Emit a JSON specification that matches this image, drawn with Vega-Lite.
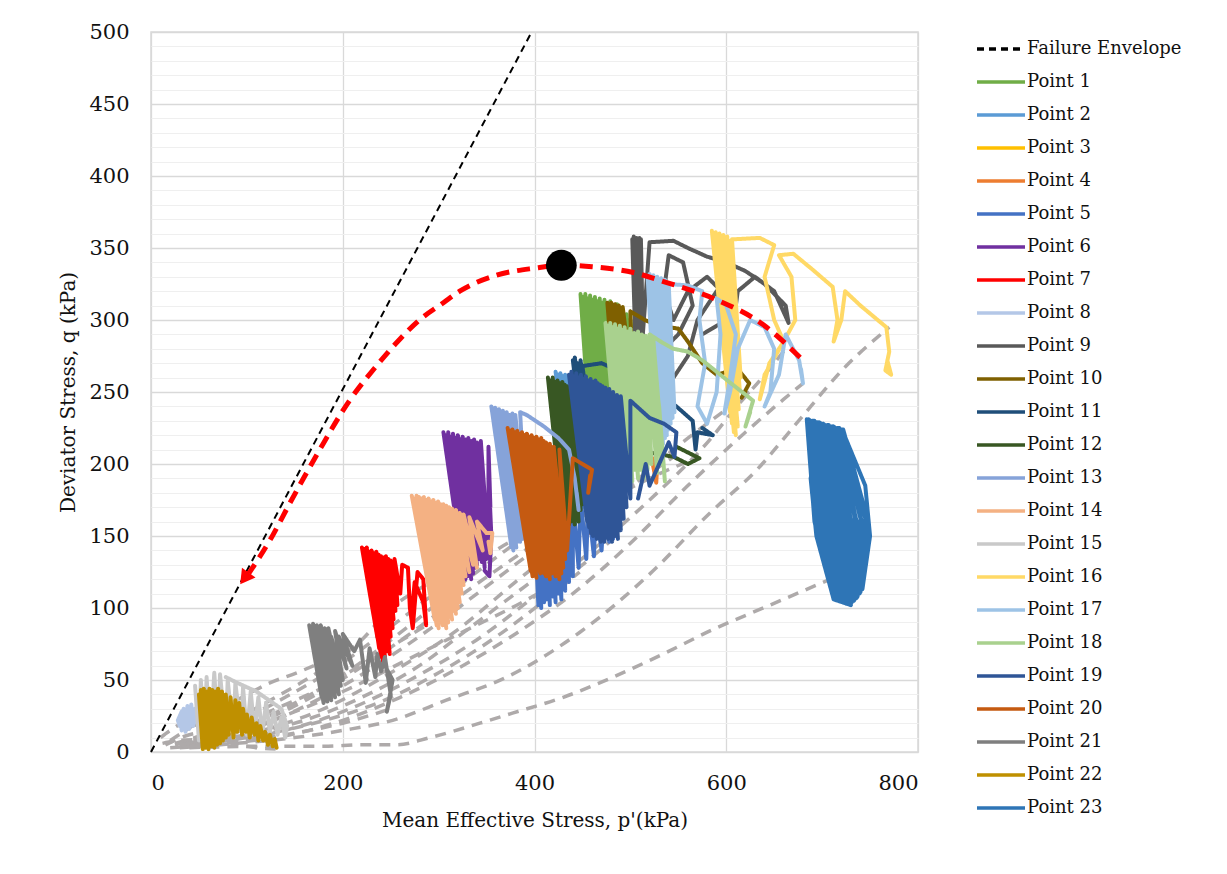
{
  "$schema": "https://vega.github.io/schema/vega-lite/v6.json",
  "width": 767,
  "height": 720,
  "autosize": {"type": "none"},
  "padding": {"left": 151, "top": 32, "right": 309, "bottom": 122},
  "background": "white",
  "config": {
    "view": {"stroke": "#D9D9D9", "strokeWidth": 1.5},
    "font": "DejaVu Serif",
    "legend": {
      "symbolType": "M-1.5,0H1.5",
      "symbolSize": 1024,
      "symbolStrokeWidth": 3.5,
      "labelFont": "DejaVu Serif",
      "labelFontSize": 18,
      "labelColor": "#111111",
      "labelOffset": 8,
      "labelLimit": 300,
      "rowPadding": 6,
      "padding": 0
    }
  },
  "datasets": {
    "envelope": [
      {"series": "Failure Envelope", "p": 0, "q": 0},
      {"series": "Failure Envelope", "p": 397, "q": 500}
    ],
    "loading": [
      {"c": 1, "p": 30, "q": 3}, {"c": 1, "p": 90, "q": 6}, {"c": 1, "p": 150, "q": 10}, {"c": 1, "p": 200, "q": 15}, {"c": 1, "p": 252, "q": 22}, {"c": 1, "p": 308, "q": 36}, {"c": 1, "p": 371, "q": 52}, {"c": 1, "p": 447, "q": 83}, {"c": 1, "p": 524, "q": 126}, {"c": 1, "p": 583, "q": 166}, {"c": 1, "p": 632, "q": 196}, {"c": 1, "p": 673, "q": 228}, {"c": 1, "p": 725, "q": 268}, {"c": 1, "p": 770, "q": 295},
      {"c": 2, "p": 40, "q": 3}, {"c": 2, "p": 120, "q": 4}, {"c": 2, "p": 180, "q": 4}, {"c": 2, "p": 221, "q": 5}, {"c": 2, "p": 256, "q": 5}, {"c": 2, "p": 291, "q": 10}, {"c": 2, "p": 343, "q": 20}, {"c": 2, "p": 377, "q": 27}, {"c": 2, "p": 430, "q": 38}, {"c": 2, "p": 482, "q": 52}, {"c": 2, "p": 534, "q": 68}, {"c": 2, "p": 586, "q": 85}, {"c": 2, "p": 642, "q": 101}, {"c": 2, "p": 705, "q": 119},
      {"c": 3, "p": 40, "q": 5}, {"c": 3, "p": 130, "q": 10}, {"c": 3, "p": 200, "q": 22}, {"c": 3, "p": 260, "q": 38}, {"c": 3, "p": 320, "q": 58}, {"c": 3, "p": 380, "q": 82}, {"c": 3, "p": 440, "q": 110}, {"c": 3, "p": 500, "q": 145}, {"c": 3, "p": 560, "q": 185}, {"c": 3, "p": 620, "q": 222}, {"c": 3, "p": 660, "q": 245}, {"c": 3, "p": 680, "q": 256},
      {"c": 4, "p": 40, "q": 5}, {"c": 4, "p": 120, "q": 12}, {"c": 4, "p": 200, "q": 28}, {"c": 4, "p": 270, "q": 50}, {"c": 4, "p": 340, "q": 78}, {"c": 4, "p": 400, "q": 108}, {"c": 4, "p": 460, "q": 140}, {"c": 4, "p": 520, "q": 175}, {"c": 4, "p": 583, "q": 217}, {"c": 4, "p": 611, "q": 240}, {"c": 4, "p": 635, "q": 258}, {"c": 4, "p": 662, "q": 280},
      {"c": 5, "p": 40, "q": 6}, {"c": 5, "p": 110, "q": 14}, {"c": 5, "p": 180, "q": 30}, {"c": 5, "p": 250, "q": 55}, {"c": 5, "p": 320, "q": 85}, {"c": 5, "p": 380, "q": 118}, {"c": 5, "p": 440, "q": 150}, {"c": 5, "p": 500, "q": 185}, {"c": 5, "p": 560, "q": 218}, {"c": 5, "p": 600, "q": 238}, {"c": 5, "p": 624, "q": 250},
      {"c": 6, "p": 35, "q": 6}, {"c": 6, "p": 100, "q": 15}, {"c": 6, "p": 170, "q": 35}, {"c": 6, "p": 230, "q": 58}, {"c": 6, "p": 290, "q": 85}, {"c": 6, "p": 350, "q": 115}, {"c": 6, "p": 410, "q": 145}, {"c": 6, "p": 470, "q": 172}, {"c": 6, "p": 520, "q": 190}, {"c": 6, "p": 572, "q": 205},
      {"c": 7, "p": 30, "q": 6}, {"c": 7, "p": 90, "q": 15}, {"c": 7, "p": 150, "q": 32}, {"c": 7, "p": 210, "q": 55}, {"c": 7, "p": 270, "q": 82}, {"c": 7, "p": 330, "q": 112}, {"c": 7, "p": 390, "q": 140}, {"c": 7, "p": 450, "q": 168}, {"c": 7, "p": 500, "q": 185}, {"c": 7, "p": 545, "q": 205},
      {"c": 8, "p": 30, "q": 5}, {"c": 8, "p": 90, "q": 14}, {"c": 8, "p": 150, "q": 28}, {"c": 8, "p": 210, "q": 45}, {"c": 8, "p": 270, "q": 65}, {"c": 8, "p": 330, "q": 85}, {"c": 8, "p": 390, "q": 105}, {"c": 8, "p": 440, "q": 125}, {"c": 8, "p": 482, "q": 148},
      {"c": 9, "p": 30, "q": 5}, {"c": 9, "p": 90, "q": 16}, {"c": 9, "p": 150, "q": 34}, {"c": 9, "p": 210, "q": 58}, {"c": 9, "p": 270, "q": 88}, {"c": 9, "p": 330, "q": 120}, {"c": 9, "p": 390, "q": 150}, {"c": 9, "p": 430, "q": 170}, {"c": 9, "p": 456, "q": 180},
      {"c": 10, "p": 25, "q": 6}, {"c": 10, "p": 80, "q": 18}, {"c": 10, "p": 140, "q": 38}, {"c": 10, "p": 200, "q": 62}, {"c": 10, "p": 260, "q": 92}, {"c": 10, "p": 320, "q": 122}, {"c": 10, "p": 380, "q": 148}, {"c": 10, "p": 420, "q": 160}, {"c": 10, "p": 447, "q": 168},
      {"c": 11, "p": 30, "q": 5}, {"c": 11, "p": 80, "q": 20}, {"c": 11, "p": 130, "q": 38}, {"c": 11, "p": 180, "q": 58}, {"c": 11, "p": 220, "q": 78}, {"c": 11, "p": 249, "q": 99}, {"c": 11, "p": 284, "q": 115}, {"c": 11, "p": 320, "q": 128}, {"c": 11, "p": 355, "q": 140},
      {"c": 12, "p": 25, "q": 5}, {"c": 12, "p": 80, "q": 15}, {"c": 12, "p": 130, "q": 30}, {"c": 12, "p": 180, "q": 45}, {"c": 12, "p": 230, "q": 65}, {"c": 12, "p": 260, "q": 77}, {"c": 12, "p": 287, "q": 88},
      {"c": 13, "p": 20, "q": 8}, {"c": 13, "p": 60, "q": 25}, {"c": 13, "p": 95, "q": 38}, {"c": 13, "p": 124, "q": 48}, {"c": 13, "p": 152, "q": 55}, {"c": 13, "p": 170, "q": 60},
      {"c": 14, "p": 15, "q": 5}, {"c": 14, "p": 40, "q": 12}, {"c": 14, "p": 70, "q": 15}, {"c": 14, "p": 100, "q": 18}, {"c": 14, "p": 130, "q": 22},
      {"c": 15, "p": 30, "q": 4}, {"c": 15, "p": 100, "q": 10}, {"c": 15, "p": 170, "q": 20}, {"c": 15, "p": 240, "q": 35}, {"c": 15, "p": 300, "q": 55}, {"c": 15, "p": 360, "q": 80}, {"c": 15, "p": 410, "q": 105}, {"c": 15, "p": 447, "q": 125},
      {"c": 16, "p": 30, "q": 5}, {"c": 16, "p": 100, "q": 12}, {"c": 16, "p": 160, "q": 22}, {"c": 16, "p": 220, "q": 38}, {"c": 16, "p": 280, "q": 60}, {"c": 16, "p": 330, "q": 85}, {"c": 16, "p": 380, "q": 110}, {"c": 16, "p": 400, "q": 120},
      {"c": 17, "p": 20, "q": 3}, {"c": 17, "p": 60, "q": 5}, {"c": 17, "p": 100, "q": 8}, {"c": 17, "p": 140, "q": 12}, {"c": 17, "p": 200, "q": 20}, {"c": 17, "p": 250, "q": 30},
      {"c": 18, "p": 10, "q": 10}, {"c": 18, "p": 20, "q": 15}, {"c": 18, "p": 35, "q": 20}, {"c": 18, "p": 50, "q": 18}, {"c": 18, "p": 70, "q": 10}, {"c": 18, "p": 90, "q": 5}, {"c": 18, "p": 110, "q": 3}, {"c": 18, "p": 130, "q": 2},
      {"c": 19, "p": 12, "q": 6}, {"c": 19, "p": 30, "q": 8}, {"c": 19, "p": 60, "q": 9}, {"c": 19, "p": 95, "q": 11}, {"c": 19, "p": 130, "q": 14}
    ],
    "points": [
      {"series": "Point 1", "p": 448, "q": 318}, {"series": "Point 1", "p": 456, "q": 240}, {"series": "Point 1", "p": 450.5, "q": 316}, {"series": "Point 1", "p": 458, "q": 236}, {"series": "Point 1", "p": 453, "q": 318}, {"series": "Point 1", "p": 460, "q": 238}, {"series": "Point 1", "p": 455.5, "q": 315}, {"series": "Point 1", "p": 462, "q": 236}, {"series": "Point 1", "p": 458, "q": 317}, {"series": "Point 1", "p": 464, "q": 240}, {"series": "Point 1", "p": 460.5, "q": 314}, {"series": "Point 1", "p": 466, "q": 238}, {"series": "Point 1", "p": 463, "q": 316}, {"series": "Point 1", "p": 468, "q": 242}, {"series": "Point 1", "p": 465.5, "q": 313}, {"series": "Point 1", "p": 470, "q": 240}, {"series": "Point 1", "p": 468, "q": 315}, {"series": "Point 1", "p": 472, "q": 244}, {"series": "Point 1", "p": 470.5, "q": 312}, {"series": "Point 1", "p": 474, "q": 242}, {"series": "Point 1", "p": 473, "q": 314}, {"series": "Point 1", "p": 476, "q": 246}, {"series": "Point 1", "p": 476, "q": 311}, {"series": "Point 1", "p": 480, "q": 248}, {"series": "Point 1", "p": 479, "q": 313}, {"series": "Point 1", "p": 484, "q": 250}, {"series": "Point 1", "p": 482, "q": 310}, {"series": "Point 1", "p": 488, "q": 254}, {"series": "Point 1", "p": 486, "q": 311}, {"series": "Point 1", "p": 492, "q": 258}, {"series": "Point 1", "p": 490, "q": 308}, {"series": "Point 1", "p": 496, "q": 262}, {"series": "Point 1", "p": 496, "q": 304}, {"series": "Point 1", "p": 500, "q": 268}, {"series": "Point 1", "p": 500, "q": 300}, {"series": "Point 1", "p": 505, "q": 270}, {"series": "Point 1", "p": 498, "q": 285},
      {"series": "Point 2", "p": 422, "q": 264}, {"series": "Point 2", "p": 440, "q": 170}, {"series": "Point 2", "p": 424.5, "q": 262}, {"series": "Point 2", "p": 442, "q": 166}, {"series": "Point 2", "p": 427, "q": 263}, {"series": "Point 2", "p": 444, "q": 168}, {"series": "Point 2", "p": 429.5, "q": 261}, {"series": "Point 2", "p": 446, "q": 172}, {"series": "Point 2", "p": 432, "q": 262}, {"series": "Point 2", "p": 448, "q": 166}, {"series": "Point 2", "p": 434.5, "q": 260}, {"series": "Point 2", "p": 450, "q": 170}, {"series": "Point 2", "p": 437, "q": 259}, {"series": "Point 2", "p": 452, "q": 174}, {"series": "Point 2", "p": 440, "q": 258}, {"series": "Point 2", "p": 456, "q": 172}, {"series": "Point 2", "p": 444, "q": 256}, {"series": "Point 2", "p": 460, "q": 176}, {"series": "Point 2", "p": 450, "q": 252}, {"series": "Point 2", "p": 468, "q": 180}, {"series": "Point 2", "p": 470, "q": 240}, {"series": "Point 2", "p": 490, "q": 230}, {"series": "Point 2", "p": 500, "q": 215}, {"series": "Point 2", "p": 505, "q": 200},
      {"series": "Point 3", "p": 470, "q": 230}, {"series": "Point 3", "p": 478, "q": 160}, {"series": "Point 3", "p": 474, "q": 228}, {"series": "Point 3", "p": 482, "q": 155}, {"series": "Point 3", "p": 478, "q": 226}, {"series": "Point 3", "p": 488, "q": 170}, {"series": "Point 3", "p": 484, "q": 224}, {"series": "Point 3", "p": 494, "q": 190}, {"series": "Point 3", "p": 490, "q": 222}, {"series": "Point 3", "p": 502, "q": 208}, {"series": "Point 3", "p": 498, "q": 215},
      {"series": "Point 4", "p": 440, "q": 250}, {"series": "Point 4", "p": 458, "q": 152}, {"series": "Point 4", "p": 443, "q": 246}, {"series": "Point 4", "p": 461, "q": 155}, {"series": "Point 4", "p": 446, "q": 248}, {"series": "Point 4", "p": 464, "q": 150}, {"series": "Point 4", "p": 450, "q": 244}, {"series": "Point 4", "p": 467, "q": 156}, {"series": "Point 4", "p": 454, "q": 242}, {"series": "Point 4", "p": 470, "q": 150}, {"series": "Point 4", "p": 458, "q": 240}, {"series": "Point 4", "p": 475, "q": 158}, {"series": "Point 4", "p": 462, "q": 238}, {"series": "Point 4", "p": 480, "q": 162}, {"series": "Point 4", "p": 470, "q": 235}, {"series": "Point 4", "p": 490, "q": 170}, {"series": "Point 4", "p": 500, "q": 220}, {"series": "Point 4", "p": 515, "q": 210}, {"series": "Point 4", "p": 528, "q": 200}, {"series": "Point 4", "p": 527, "q": 187}, {"series": "Point 4", "p": 522, "q": 205},
      {"series": "Point 5", "p": 398, "q": 190}, {"series": "Point 5", "p": 404, "q": 102}, {"series": "Point 5", "p": 401, "q": 186}, {"series": "Point 5", "p": 407, "q": 100}, {"series": "Point 5", "p": 404, "q": 188}, {"series": "Point 5", "p": 410, "q": 104}, {"series": "Point 5", "p": 407, "q": 182}, {"series": "Point 5", "p": 413, "q": 106}, {"series": "Point 5", "p": 410, "q": 186}, {"series": "Point 5", "p": 416, "q": 102}, {"series": "Point 5", "p": 413, "q": 180}, {"series": "Point 5", "p": 419, "q": 108}, {"series": "Point 5", "p": 416, "q": 184}, {"series": "Point 5", "p": 422, "q": 104}, {"series": "Point 5", "p": 419, "q": 178}, {"series": "Point 5", "p": 425, "q": 110}, {"series": "Point 5", "p": 422, "q": 182}, {"series": "Point 5", "p": 428, "q": 106}, {"series": "Point 5", "p": 426, "q": 176}, {"series": "Point 5", "p": 432, "q": 112}, {"series": "Point 5", "p": 430, "q": 180}, {"series": "Point 5", "p": 436, "q": 118}, {"series": "Point 5", "p": 434, "q": 174}, {"series": "Point 5", "p": 440, "q": 122}, {"series": "Point 5", "p": 440, "q": 176}, {"series": "Point 5", "p": 446, "q": 128}, {"series": "Point 5", "p": 448, "q": 178}, {"series": "Point 5", "p": 454, "q": 134}, {"series": "Point 5", "p": 456, "q": 172}, {"series": "Point 5", "p": 462, "q": 136}, {"series": "Point 5", "p": 464, "q": 170}, {"series": "Point 5", "p": 470, "q": 140}, {"series": "Point 5", "p": 472, "q": 165}, {"series": "Point 5", "p": 478, "q": 146}, {"series": "Point 5", "p": 478, "q": 160}, {"series": "Point 5", "p": 482, "q": 148},
      {"series": "Point 6", "p": 305, "q": 222}, {"series": "Point 6", "p": 326, "q": 124}, {"series": "Point 6", "p": 307.5, "q": 220}, {"series": "Point 6", "p": 328, "q": 120}, {"series": "Point 6", "p": 310, "q": 222}, {"series": "Point 6", "p": 330, "q": 122}, {"series": "Point 6", "p": 312.5, "q": 219}, {"series": "Point 6", "p": 332, "q": 126}, {"series": "Point 6", "p": 315, "q": 221}, {"series": "Point 6", "p": 334, "q": 120}, {"series": "Point 6", "p": 317.5, "q": 218}, {"series": "Point 6", "p": 336, "q": 124}, {"series": "Point 6", "p": 320, "q": 220}, {"series": "Point 6", "p": 338, "q": 128}, {"series": "Point 6", "p": 322.5, "q": 217}, {"series": "Point 6", "p": 340, "q": 130}, {"series": "Point 6", "p": 325, "q": 219}, {"series": "Point 6", "p": 342, "q": 134}, {"series": "Point 6", "p": 328, "q": 217}, {"series": "Point 6", "p": 343, "q": 138}, {"series": "Point 6", "p": 331, "q": 218}, {"series": "Point 6", "p": 345, "q": 132}, {"series": "Point 6", "p": 334, "q": 216}, {"series": "Point 6", "p": 346, "q": 140}, {"series": "Point 6", "p": 337, "q": 217}, {"series": "Point 6", "p": 348, "q": 128}, {"series": "Point 6", "p": 340, "q": 215}, {"series": "Point 6", "p": 350, "q": 134}, {"series": "Point 6", "p": 344, "q": 216}, {"series": "Point 6", "p": 352, "q": 140}, {"series": "Point 6", "p": 352, "q": 212}, {"series": "Point 6", "p": 354, "q": 170}, {"series": "Point 6", "p": 352, "q": 195}, {"series": "Point 6", "p": 355, "q": 150}, {"series": "Point 6", "p": 353, "q": 122}, {"series": "Point 6", "p": 348, "q": 126},
      {"series": "Point 7", "p": 220, "q": 142}, {"series": "Point 7", "p": 236, "q": 80}, {"series": "Point 7", "p": 222.5, "q": 141}, {"series": "Point 7", "p": 238, "q": 72}, {"series": "Point 7", "p": 225, "q": 142}, {"series": "Point 7", "p": 240, "q": 66}, {"series": "Point 7", "p": 227.5, "q": 139}, {"series": "Point 7", "p": 242, "q": 63}, {"series": "Point 7", "p": 230, "q": 140}, {"series": "Point 7", "p": 244, "q": 66}, {"series": "Point 7", "p": 232.5, "q": 138}, {"series": "Point 7", "p": 246, "q": 70}, {"series": "Point 7", "p": 235, "q": 139}, {"series": "Point 7", "p": 247, "q": 76}, {"series": "Point 7", "p": 237.5, "q": 137}, {"series": "Point 7", "p": 249, "q": 68}, {"series": "Point 7", "p": 240, "q": 136}, {"series": "Point 7", "p": 250, "q": 80}, {"series": "Point 7", "p": 242.5, "q": 135}, {"series": "Point 7", "p": 252, "q": 86}, {"series": "Point 7", "p": 245, "q": 136}, {"series": "Point 7", "p": 253, "q": 92}, {"series": "Point 7", "p": 247.5, "q": 134}, {"series": "Point 7", "p": 255, "q": 98}, {"series": "Point 7", "p": 250, "q": 133}, {"series": "Point 7", "p": 257, "q": 102}, {"series": "Point 7", "p": 254, "q": 134}, {"series": "Point 7", "p": 260, "q": 110}, {"series": "Point 7", "p": 262, "q": 130}, {"series": "Point 7", "p": 268, "q": 128}, {"series": "Point 7", "p": 270, "q": 100}, {"series": "Point 7", "p": 273, "q": 86}, {"series": "Point 7", "p": 276, "q": 110}, {"series": "Point 7", "p": 278, "q": 125}, {"series": "Point 7", "p": 284, "q": 120}, {"series": "Point 7", "p": 287, "q": 88}, {"series": "Point 7", "p": 284, "q": 104}, {"series": "Point 7", "p": 275, "q": 118}, {"series": "Point 7", "p": 272, "q": 96},
      {"series": "Point 8", "p": 30, "q": 25}, {"series": "Point 8", "p": 32, "q": 15}, {"series": "Point 8", "p": 34, "q": 30}, {"series": "Point 8", "p": 36, "q": 14}, {"series": "Point 8", "p": 38, "q": 32}, {"series": "Point 8", "p": 40, "q": 16}, {"series": "Point 8", "p": 42, "q": 33}, {"series": "Point 8", "p": 44, "q": 18}, {"series": "Point 8", "p": 46, "q": 30}, {"series": "Point 8", "p": 45, "q": 20}, {"series": "Point 8", "p": 40, "q": 28}, {"series": "Point 8", "p": 34, "q": 22}, {"series": "Point 8", "p": 30, "q": 18}, {"series": "Point 8", "p": 28, "q": 22}, {"series": "Point 8", "p": 32, "q": 28}, {"series": "Point 8", "p": 38, "q": 24},
      {"series": "Point 9", "p": 502, "q": 356}, {"series": "Point 9", "p": 506, "q": 268}, {"series": "Point 9", "p": 503.5, "q": 358}, {"series": "Point 9", "p": 507.5, "q": 266}, {"series": "Point 9", "p": 505, "q": 355}, {"series": "Point 9", "p": 509, "q": 270}, {"series": "Point 9", "p": 506.5, "q": 357}, {"series": "Point 9", "p": 510.5, "q": 266}, {"series": "Point 9", "p": 508, "q": 354}, {"series": "Point 9", "p": 511.5, "q": 272}, {"series": "Point 9", "p": 509.5, "q": 357}, {"series": "Point 9", "p": 513, "q": 270}, {"series": "Point 9", "p": 511, "q": 356}, {"series": "Point 9", "p": 513, "q": 290}, {"series": "Point 9", "p": 520, "q": 354}, {"series": "Point 9", "p": 545, "q": 355}, {"series": "Point 9", "p": 560, "q": 350}, {"series": "Point 9", "p": 580, "q": 344}, {"series": "Point 9", "p": 600, "q": 340}, {"series": "Point 9", "p": 620, "q": 334}, {"series": "Point 9", "p": 640, "q": 325}, {"series": "Point 9", "p": 662, "q": 310}, {"series": "Point 9", "p": 665, "q": 298}, {"series": "Point 9", "p": 650, "q": 320}, {"series": "Point 9", "p": 630, "q": 330}, {"series": "Point 9", "p": 612, "q": 320}, {"series": "Point 9", "p": 608, "q": 300}, {"series": "Point 9", "p": 605, "q": 272}, {"series": "Point 9", "p": 610, "q": 310}, {"series": "Point 9", "p": 580, "q": 330}, {"series": "Point 9", "p": 560, "q": 320}, {"series": "Point 9", "p": 545, "q": 300}, {"series": "Point 9", "p": 535, "q": 320}, {"series": "Point 9", "p": 540, "q": 345}, {"series": "Point 9", "p": 555, "q": 340}, {"series": "Point 9", "p": 565, "q": 310}, {"series": "Point 9", "p": 550, "q": 290}, {"series": "Point 9", "p": 535, "q": 280}, {"series": "Point 9", "p": 545, "q": 260}, {"series": "Point 9", "p": 560, "q": 275}, {"series": "Point 9", "p": 570, "q": 300}, {"series": "Point 9", "p": 590, "q": 320}, {"series": "Point 9", "p": 600, "q": 300}, {"series": "Point 9", "p": 575, "q": 290},
      {"series": "Point 10", "p": 476, "q": 312}, {"series": "Point 10", "p": 488, "q": 210}, {"series": "Point 10", "p": 478, "q": 310}, {"series": "Point 10", "p": 490, "q": 206}, {"series": "Point 10", "p": 480, "q": 312}, {"series": "Point 10", "p": 492, "q": 212}, {"series": "Point 10", "p": 482, "q": 309}, {"series": "Point 10", "p": 494, "q": 208}, {"series": "Point 10", "p": 484, "q": 311}, {"series": "Point 10", "p": 496, "q": 216}, {"series": "Point 10", "p": 486, "q": 308}, {"series": "Point 10", "p": 498, "q": 220}, {"series": "Point 10", "p": 488, "q": 310}, {"series": "Point 10", "p": 500, "q": 232}, {"series": "Point 10", "p": 490, "q": 307}, {"series": "Point 10", "p": 501, "q": 246}, {"series": "Point 10", "p": 492, "q": 309}, {"series": "Point 10", "p": 502, "q": 256}, {"series": "Point 10", "p": 500, "q": 306}, {"series": "Point 10", "p": 515, "q": 300}, {"series": "Point 10", "p": 530, "q": 296}, {"series": "Point 10", "p": 550, "q": 294}, {"series": "Point 10", "p": 560, "q": 285}, {"series": "Point 10", "p": 575, "q": 270}, {"series": "Point 10", "p": 590, "q": 262}, {"series": "Point 10", "p": 612, "q": 266}, {"series": "Point 10", "p": 624, "q": 256}, {"series": "Point 10", "p": 616, "q": 246}, {"series": "Point 10", "p": 620, "q": 250},
      {"series": "Point 11", "p": 440, "q": 272}, {"series": "Point 11", "p": 455, "q": 190}, {"series": "Point 11", "p": 442, "q": 274}, {"series": "Point 11", "p": 458, "q": 196}, {"series": "Point 11", "p": 445, "q": 270}, {"series": "Point 11", "p": 460, "q": 200}, {"series": "Point 11", "p": 448, "q": 272}, {"series": "Point 11", "p": 462, "q": 206}, {"series": "Point 11", "p": 450, "q": 268}, {"series": "Point 11", "p": 470, "q": 270}, {"series": "Point 11", "p": 490, "q": 264}, {"series": "Point 11", "p": 510, "q": 256}, {"series": "Point 11", "p": 530, "q": 248}, {"series": "Point 11", "p": 548, "q": 240}, {"series": "Point 11", "p": 565, "q": 230}, {"series": "Point 11", "p": 568, "q": 210}, {"series": "Point 11", "p": 570, "q": 222}, {"series": "Point 11", "p": 586, "q": 220}, {"series": "Point 11", "p": 575, "q": 225},
      {"series": "Point 12", "p": 414, "q": 260}, {"series": "Point 12", "p": 430, "q": 158}, {"series": "Point 12", "p": 416.5, "q": 258}, {"series": "Point 12", "p": 432, "q": 156}, {"series": "Point 12", "p": 419, "q": 260}, {"series": "Point 12", "p": 434, "q": 154}, {"series": "Point 12", "p": 421.5, "q": 257}, {"series": "Point 12", "p": 436, "q": 158}, {"series": "Point 12", "p": 424, "q": 258}, {"series": "Point 12", "p": 438, "q": 160}, {"series": "Point 12", "p": 426.5, "q": 256}, {"series": "Point 12", "p": 440, "q": 162}, {"series": "Point 12", "p": 429, "q": 257}, {"series": "Point 12", "p": 442, "q": 158}, {"series": "Point 12", "p": 431.5, "q": 255}, {"series": "Point 12", "p": 444, "q": 164}, {"series": "Point 12", "p": 434, "q": 254}, {"series": "Point 12", "p": 446, "q": 160}, {"series": "Point 12", "p": 437, "q": 253}, {"series": "Point 12", "p": 448, "q": 168}, {"series": "Point 12", "p": 440, "q": 252}, {"series": "Point 12", "p": 450, "q": 172}, {"series": "Point 12", "p": 444, "q": 250}, {"series": "Point 12", "p": 454, "q": 174}, {"series": "Point 12", "p": 450, "q": 246}, {"series": "Point 12", "p": 462, "q": 178}, {"series": "Point 12", "p": 470, "q": 182}, {"series": "Point 12", "p": 480, "q": 230}, {"series": "Point 12", "p": 500, "q": 215}, {"series": "Point 12", "p": 520, "q": 208}, {"series": "Point 12", "p": 545, "q": 205}, {"series": "Point 12", "p": 560, "q": 200}, {"series": "Point 12", "p": 572, "q": 204}, {"series": "Point 12", "p": 548, "q": 212},
      {"series": "Point 13", "p": 355, "q": 240}, {"series": "Point 13", "p": 376, "q": 142}, {"series": "Point 13", "p": 357, "q": 238}, {"series": "Point 13", "p": 378, "q": 140}, {"series": "Point 13", "p": 359, "q": 239}, {"series": "Point 13", "p": 380, "q": 144}, {"series": "Point 13", "p": 361, "q": 237}, {"series": "Point 13", "p": 381, "q": 142}, {"series": "Point 13", "p": 363, "q": 238}, {"series": "Point 13", "p": 382, "q": 146}, {"series": "Point 13", "p": 365, "q": 236}, {"series": "Point 13", "p": 384, "q": 148}, {"series": "Point 13", "p": 367, "q": 237}, {"series": "Point 13", "p": 385, "q": 146}, {"series": "Point 13", "p": 369, "q": 235}, {"series": "Point 13", "p": 386, "q": 150}, {"series": "Point 13", "p": 371, "q": 236}, {"series": "Point 13", "p": 388, "q": 148}, {"series": "Point 13", "p": 374, "q": 234}, {"series": "Point 13", "p": 389, "q": 152}, {"series": "Point 13", "p": 377, "q": 235}, {"series": "Point 13", "p": 390, "q": 156}, {"series": "Point 13", "p": 380, "q": 234}, {"series": "Point 13", "p": 391, "q": 160}, {"series": "Point 13", "p": 385, "q": 236}, {"series": "Point 13", "p": 392, "q": 234}, {"series": "Point 13", "p": 410, "q": 226}, {"series": "Point 13", "p": 425, "q": 218}, {"series": "Point 13", "p": 436, "q": 210}, {"series": "Point 13", "p": 442, "q": 190}, {"series": "Point 13", "p": 446, "q": 168}, {"series": "Point 13", "p": 444, "q": 180},
      {"series": "Point 14", "p": 272, "q": 178}, {"series": "Point 14", "p": 296, "q": 92}, {"series": "Point 14", "p": 274.5, "q": 176}, {"series": "Point 14", "p": 298, "q": 88}, {"series": "Point 14", "p": 277, "q": 178}, {"series": "Point 14", "p": 300, "q": 86}, {"series": "Point 14", "p": 279.5, "q": 177}, {"series": "Point 14", "p": 302, "q": 90}, {"series": "Point 14", "p": 282, "q": 176}, {"series": "Point 14", "p": 304, "q": 88}, {"series": "Point 14", "p": 284.5, "q": 177}, {"series": "Point 14", "p": 306, "q": 92}, {"series": "Point 14", "p": 287, "q": 175}, {"series": "Point 14", "p": 308, "q": 86}, {"series": "Point 14", "p": 289.5, "q": 176}, {"series": "Point 14", "p": 310, "q": 90}, {"series": "Point 14", "p": 292, "q": 174}, {"series": "Point 14", "p": 312, "q": 94}, {"series": "Point 14", "p": 294.5, "q": 175}, {"series": "Point 14", "p": 314, "q": 92}, {"series": "Point 14", "p": 297, "q": 173}, {"series": "Point 14", "p": 316, "q": 98}, {"series": "Point 14", "p": 299.5, "q": 174}, {"series": "Point 14", "p": 318, "q": 96}, {"series": "Point 14", "p": 302, "q": 172}, {"series": "Point 14", "p": 320, "q": 100}, {"series": "Point 14", "p": 305, "q": 172}, {"series": "Point 14", "p": 322, "q": 104}, {"series": "Point 14", "p": 308, "q": 171}, {"series": "Point 14", "p": 324, "q": 110}, {"series": "Point 14", "p": 311, "q": 170}, {"series": "Point 14", "p": 326, "q": 116}, {"series": "Point 14", "p": 314, "q": 169}, {"series": "Point 14", "p": 328, "q": 122}, {"series": "Point 14", "p": 318, "q": 168}, {"series": "Point 14", "p": 332, "q": 125}, {"series": "Point 14", "p": 322, "q": 166}, {"series": "Point 14", "p": 336, "q": 130}, {"series": "Point 14", "p": 326, "q": 165}, {"series": "Point 14", "p": 340, "q": 128}, {"series": "Point 14", "p": 332, "q": 163}, {"series": "Point 14", "p": 346, "q": 140}, {"series": "Point 14", "p": 340, "q": 160}, {"series": "Point 14", "p": 350, "q": 152}, {"series": "Point 14", "p": 356, "q": 152}, {"series": "Point 14", "p": 354, "q": 138}, {"series": "Point 14", "p": 352, "q": 146},
      {"series": "Point 15", "p": 46, "q": 46}, {"series": "Point 15", "p": 50, "q": 8}, {"series": "Point 15", "p": 52, "q": 50}, {"series": "Point 15", "p": 56, "q": 10}, {"series": "Point 15", "p": 58, "q": 52}, {"series": "Point 15", "p": 62, "q": 8}, {"series": "Point 15", "p": 66, "q": 55}, {"series": "Point 15", "p": 70, "q": 10}, {"series": "Point 15", "p": 72, "q": 54}, {"series": "Point 15", "p": 78, "q": 12}, {"series": "Point 15", "p": 80, "q": 50}, {"series": "Point 15", "p": 86, "q": 10}, {"series": "Point 15", "p": 88, "q": 48}, {"series": "Point 15", "p": 94, "q": 14}, {"series": "Point 15", "p": 96, "q": 45}, {"series": "Point 15", "p": 100, "q": 12}, {"series": "Point 15", "p": 104, "q": 42}, {"series": "Point 15", "p": 108, "q": 14}, {"series": "Point 15", "p": 112, "q": 38}, {"series": "Point 15", "p": 116, "q": 12}, {"series": "Point 15", "p": 120, "q": 34}, {"series": "Point 15", "p": 124, "q": 14}, {"series": "Point 15", "p": 128, "q": 28}, {"series": "Point 15", "p": 132, "q": 12}, {"series": "Point 15", "p": 136, "q": 24}, {"series": "Point 15", "p": 140, "q": 10}, {"series": "Point 15", "p": 142, "q": 18}, {"series": "Point 15", "p": 136, "q": 30}, {"series": "Point 15", "p": 110, "q": 42}, {"series": "Point 15", "p": 90, "q": 48}, {"series": "Point 15", "p": 78, "q": 52},
      {"series": "Point 16", "p": 585, "q": 362}, {"series": "Point 16", "p": 604, "q": 236}, {"series": "Point 16", "p": 587, "q": 360}, {"series": "Point 16", "p": 606, "q": 228}, {"series": "Point 16", "p": 589, "q": 361}, {"series": "Point 16", "p": 608, "q": 222}, {"series": "Point 16", "p": 591, "q": 358}, {"series": "Point 16", "p": 610, "q": 220}, {"series": "Point 16", "p": 593, "q": 360}, {"series": "Point 16", "p": 612, "q": 226}, {"series": "Point 16", "p": 595, "q": 357}, {"series": "Point 16", "p": 611, "q": 232}, {"series": "Point 16", "p": 597, "q": 359}, {"series": "Point 16", "p": 613, "q": 238}, {"series": "Point 16", "p": 599, "q": 356}, {"series": "Point 16", "p": 612, "q": 246}, {"series": "Point 16", "p": 601, "q": 358}, {"series": "Point 16", "p": 614, "q": 252}, {"series": "Point 16", "p": 603, "q": 355}, {"series": "Point 16", "p": 615, "q": 260}, {"series": "Point 16", "p": 606, "q": 356}, {"series": "Point 16", "p": 635, "q": 357}, {"series": "Point 16", "p": 650, "q": 352}, {"series": "Point 16", "p": 640, "q": 330}, {"series": "Point 16", "p": 650, "q": 300}, {"series": "Point 16", "p": 660, "q": 285}, {"series": "Point 16", "p": 645, "q": 270}, {"series": "Point 16", "p": 635, "q": 245}, {"series": "Point 16", "p": 640, "q": 262}, {"series": "Point 16", "p": 660, "q": 285}, {"series": "Point 16", "p": 672, "q": 300}, {"series": "Point 16", "p": 668, "q": 330}, {"series": "Point 16", "p": 655, "q": 345}, {"series": "Point 16", "p": 670, "q": 346}, {"series": "Point 16", "p": 690, "q": 335}, {"series": "Point 16", "p": 711, "q": 323}, {"series": "Point 16", "p": 716, "q": 300}, {"series": "Point 16", "p": 712, "q": 285}, {"series": "Point 16", "p": 720, "q": 300}, {"series": "Point 16", "p": 724, "q": 320}, {"series": "Point 16", "p": 740, "q": 310}, {"series": "Point 16", "p": 767, "q": 295}, {"series": "Point 16", "p": 770, "q": 278}, {"series": "Point 16", "p": 766, "q": 265}, {"series": "Point 16", "p": 772, "q": 262}, {"series": "Point 16", "p": 768, "q": 272},
      {"series": "Point 17", "p": 518, "q": 330}, {"series": "Point 17", "p": 528, "q": 214}, {"series": "Point 17", "p": 520, "q": 332}, {"series": "Point 17", "p": 530, "q": 212}, {"series": "Point 17", "p": 522, "q": 329}, {"series": "Point 17", "p": 532, "q": 216}, {"series": "Point 17", "p": 524, "q": 331}, {"series": "Point 17", "p": 534, "q": 214}, {"series": "Point 17", "p": 526, "q": 328}, {"series": "Point 17", "p": 536, "q": 218}, {"series": "Point 17", "p": 528, "q": 330}, {"series": "Point 17", "p": 538, "q": 220}, {"series": "Point 17", "p": 530, "q": 327}, {"series": "Point 17", "p": 540, "q": 224}, {"series": "Point 17", "p": 532, "q": 329}, {"series": "Point 17", "p": 542, "q": 228}, {"series": "Point 17", "p": 534, "q": 326}, {"series": "Point 17", "p": 544, "q": 232}, {"series": "Point 17", "p": 536, "q": 328}, {"series": "Point 17", "p": 546, "q": 236}, {"series": "Point 17", "p": 540, "q": 325}, {"series": "Point 17", "p": 560, "q": 324}, {"series": "Point 17", "p": 575, "q": 320}, {"series": "Point 17", "p": 572, "q": 300}, {"series": "Point 17", "p": 578, "q": 270}, {"series": "Point 17", "p": 570, "q": 240}, {"series": "Point 17", "p": 580, "q": 228}, {"series": "Point 17", "p": 590, "q": 250}, {"series": "Point 17", "p": 594, "q": 290}, {"series": "Point 17", "p": 590, "q": 315}, {"series": "Point 17", "p": 600, "q": 310}, {"series": "Point 17", "p": 610, "q": 290}, {"series": "Point 17", "p": 604, "q": 260}, {"series": "Point 17", "p": 598, "q": 235}, {"series": "Point 17", "p": 604, "q": 250}, {"series": "Point 17", "p": 612, "q": 280}, {"series": "Point 17", "p": 625, "q": 300}, {"series": "Point 17", "p": 640, "q": 295}, {"series": "Point 17", "p": 650, "q": 280}, {"series": "Point 17", "p": 646, "q": 250}, {"series": "Point 17", "p": 640, "q": 240}, {"series": "Point 17", "p": 655, "q": 262}, {"series": "Point 17", "p": 662, "q": 290}, {"series": "Point 17", "p": 676, "q": 272}, {"series": "Point 17", "p": 680, "q": 256}, {"series": "Point 17", "p": 678, "q": 266},
      {"series": "Point 18", "p": 474, "q": 298}, {"series": "Point 18", "p": 488, "q": 192}, {"series": "Point 18", "p": 476.5, "q": 296}, {"series": "Point 18", "p": 490, "q": 188}, {"series": "Point 18", "p": 479, "q": 298}, {"series": "Point 18", "p": 492, "q": 190}, {"series": "Point 18", "p": 481.5, "q": 295}, {"series": "Point 18", "p": 494, "q": 186}, {"series": "Point 18", "p": 484, "q": 297}, {"series": "Point 18", "p": 496, "q": 192}, {"series": "Point 18", "p": 486.5, "q": 294}, {"series": "Point 18", "p": 498, "q": 188}, {"series": "Point 18", "p": 489, "q": 296}, {"series": "Point 18", "p": 500, "q": 194}, {"series": "Point 18", "p": 491.5, "q": 293}, {"series": "Point 18", "p": 502, "q": 188}, {"series": "Point 18", "p": 494, "q": 295}, {"series": "Point 18", "p": 505, "q": 196}, {"series": "Point 18", "p": 497, "q": 292}, {"series": "Point 18", "p": 508, "q": 190}, {"series": "Point 18", "p": 500, "q": 294}, {"series": "Point 18", "p": 511, "q": 196}, {"series": "Point 18", "p": 504, "q": 291}, {"series": "Point 18", "p": 514, "q": 190}, {"series": "Point 18", "p": 508, "q": 292}, {"series": "Point 18", "p": 518, "q": 196}, {"series": "Point 18", "p": 512, "q": 290}, {"series": "Point 18", "p": 522, "q": 200}, {"series": "Point 18", "p": 516, "q": 289}, {"series": "Point 18", "p": 528, "q": 194}, {"series": "Point 18", "p": 520, "q": 288}, {"series": "Point 18", "p": 532, "q": 200}, {"series": "Point 18", "p": 524, "q": 286}, {"series": "Point 18", "p": 536, "q": 188}, {"series": "Point 18", "p": 530, "q": 240}, {"series": "Point 18", "p": 520, "q": 290}, {"series": "Point 18", "p": 534, "q": 284}, {"series": "Point 18", "p": 545, "q": 280}, {"series": "Point 18", "p": 560, "q": 278}, {"series": "Point 18", "p": 575, "q": 272}, {"series": "Point 18", "p": 590, "q": 264}, {"series": "Point 18", "p": 605, "q": 256}, {"series": "Point 18", "p": 628, "q": 244}, {"series": "Point 18", "p": 620, "q": 226}, {"series": "Point 18", "p": 625, "q": 236},
      {"series": "Point 19", "p": 436, "q": 262}, {"series": "Point 19", "p": 455, "q": 160}, {"series": "Point 19", "p": 438.5, "q": 264}, {"series": "Point 19", "p": 457, "q": 156}, {"series": "Point 19", "p": 441, "q": 261}, {"series": "Point 19", "p": 459, "q": 152}, {"series": "Point 19", "p": 443.5, "q": 263}, {"series": "Point 19", "p": 461, "q": 150}, {"series": "Point 19", "p": 446, "q": 260}, {"series": "Point 19", "p": 463, "q": 154}, {"series": "Point 19", "p": 448.5, "q": 262}, {"series": "Point 19", "p": 465, "q": 148}, {"series": "Point 19", "p": 451, "q": 259}, {"series": "Point 19", "p": 467, "q": 152}, {"series": "Point 19", "p": 453.5, "q": 261}, {"series": "Point 19", "p": 469, "q": 146}, {"series": "Point 19", "p": 456, "q": 258}, {"series": "Point 19", "p": 471, "q": 150}, {"series": "Point 19", "p": 458.5, "q": 259}, {"series": "Point 19", "p": 473, "q": 146}, {"series": "Point 19", "p": 461, "q": 257}, {"series": "Point 19", "p": 475, "q": 150}, {"series": "Point 19", "p": 463.5, "q": 258}, {"series": "Point 19", "p": 477, "q": 148}, {"series": "Point 19", "p": 466, "q": 256}, {"series": "Point 19", "p": 479, "q": 152}, {"series": "Point 19", "p": 468.5, "q": 255}, {"series": "Point 19", "p": 481, "q": 146}, {"series": "Point 19", "p": 471, "q": 254}, {"series": "Point 19", "p": 484, "q": 150}, {"series": "Point 19", "p": 474, "q": 253}, {"series": "Point 19", "p": 487, "q": 148}, {"series": "Point 19", "p": 478, "q": 252}, {"series": "Point 19", "p": 490, "q": 154}, {"series": "Point 19", "p": 482, "q": 250}, {"series": "Point 19", "p": 493, "q": 162}, {"series": "Point 19", "p": 486, "q": 248}, {"series": "Point 19", "p": 496, "q": 170}, {"series": "Point 19", "p": 490, "q": 247}, {"series": "Point 19", "p": 500, "q": 176}, {"series": "Point 19", "p": 500, "q": 244}, {"series": "Point 19", "p": 520, "q": 232}, {"series": "Point 19", "p": 535, "q": 228}, {"series": "Point 19", "p": 548, "q": 222}, {"series": "Point 19", "p": 546, "q": 205}, {"series": "Point 19", "p": 540, "q": 215}, {"series": "Point 19", "p": 520, "q": 185}, {"series": "Point 19", "p": 516, "q": 200}, {"series": "Point 19", "p": 508, "q": 176},
      {"series": "Point 20", "p": 372, "q": 225}, {"series": "Point 20", "p": 396, "q": 126}, {"series": "Point 20", "p": 374.5, "q": 223}, {"series": "Point 20", "p": 398, "q": 122}, {"series": "Point 20", "p": 377, "q": 224}, {"series": "Point 20", "p": 400, "q": 125}, {"series": "Point 20", "p": 379.5, "q": 222}, {"series": "Point 20", "p": 402, "q": 121}, {"series": "Point 20", "p": 382, "q": 223}, {"series": "Point 20", "p": 404, "q": 126}, {"series": "Point 20", "p": 384.5, "q": 221}, {"series": "Point 20", "p": 406, "q": 124}, {"series": "Point 20", "p": 387, "q": 222}, {"series": "Point 20", "p": 408, "q": 128}, {"series": "Point 20", "p": 389.5, "q": 220}, {"series": "Point 20", "p": 410, "q": 124}, {"series": "Point 20", "p": 392, "q": 221}, {"series": "Point 20", "p": 412, "q": 122}, {"series": "Point 20", "p": 394.5, "q": 219}, {"series": "Point 20", "p": 414, "q": 126}, {"series": "Point 20", "p": 397, "q": 220}, {"series": "Point 20", "p": 416, "q": 120}, {"series": "Point 20", "p": 399.5, "q": 218}, {"series": "Point 20", "p": 418, "q": 124}, {"series": "Point 20", "p": 402, "q": 219}, {"series": "Point 20", "p": 420, "q": 128}, {"series": "Point 20", "p": 404.5, "q": 217}, {"series": "Point 20", "p": 422, "q": 122}, {"series": "Point 20", "p": 407, "q": 218}, {"series": "Point 20", "p": 424, "q": 126}, {"series": "Point 20", "p": 409.5, "q": 216}, {"series": "Point 20", "p": 426, "q": 120}, {"series": "Point 20", "p": 412, "q": 215}, {"series": "Point 20", "p": 428, "q": 124}, {"series": "Point 20", "p": 416, "q": 214}, {"series": "Point 20", "p": 430, "q": 128}, {"series": "Point 20", "p": 420, "q": 212}, {"series": "Point 20", "p": 432, "q": 134}, {"series": "Point 20", "p": 426, "q": 210}, {"series": "Point 20", "p": 434, "q": 140}, {"series": "Point 20", "p": 440, "q": 204}, {"series": "Point 20", "p": 450, "q": 200}, {"series": "Point 20", "p": 460, "q": 196}, {"series": "Point 20", "p": 456, "q": 180}, {"series": "Point 20", "p": 458, "q": 192},
      {"series": "Point 21", "p": 165, "q": 88}, {"series": "Point 21", "p": 178, "q": 38}, {"series": "Point 21", "p": 167, "q": 86}, {"series": "Point 21", "p": 180, "q": 34}, {"series": "Point 21", "p": 169, "q": 89}, {"series": "Point 21", "p": 182, "q": 36}, {"series": "Point 21", "p": 171, "q": 86}, {"series": "Point 21", "p": 184, "q": 35}, {"series": "Point 21", "p": 173, "q": 88}, {"series": "Point 21", "p": 186, "q": 38}, {"series": "Point 21", "p": 175, "q": 85}, {"series": "Point 21", "p": 188, "q": 36}, {"series": "Point 21", "p": 177, "q": 88}, {"series": "Point 21", "p": 190, "q": 40}, {"series": "Point 21", "p": 179, "q": 84}, {"series": "Point 21", "p": 192, "q": 38}, {"series": "Point 21", "p": 181, "q": 86}, {"series": "Point 21", "p": 194, "q": 42}, {"series": "Point 21", "p": 183, "q": 82}, {"series": "Point 21", "p": 196, "q": 40}, {"series": "Point 21", "p": 185, "q": 86}, {"series": "Point 21", "p": 198, "q": 46}, {"series": "Point 21", "p": 188, "q": 80}, {"series": "Point 21", "p": 200, "q": 50}, {"series": "Point 21", "p": 192, "q": 84}, {"series": "Point 21", "p": 204, "q": 58}, {"series": "Point 21", "p": 196, "q": 80}, {"series": "Point 21", "p": 210, "q": 60}, {"series": "Point 21", "p": 200, "q": 82}, {"series": "Point 21", "p": 212, "q": 70}, {"series": "Point 21", "p": 218, "q": 78}, {"series": "Point 21", "p": 224, "q": 48}, {"series": "Point 21", "p": 228, "q": 72}, {"series": "Point 21", "p": 234, "q": 52}, {"series": "Point 21", "p": 236, "q": 68}, {"series": "Point 21", "p": 240, "q": 56}, {"series": "Point 21", "p": 244, "q": 66}, {"series": "Point 21", "p": 250, "q": 40}, {"series": "Point 21", "p": 246, "q": 28}, {"series": "Point 21", "p": 252, "q": 50}, {"series": "Point 21", "p": 244, "q": 60},
      {"series": "Point 22", "p": 50, "q": 40}, {"series": "Point 22", "p": 54, "q": 2}, {"series": "Point 22", "p": 52, "q": 43}, {"series": "Point 22", "p": 57, "q": 3}, {"series": "Point 22", "p": 55, "q": 44}, {"series": "Point 22", "p": 60, "q": 2}, {"series": "Point 22", "p": 58, "q": 42}, {"series": "Point 22", "p": 63, "q": 4}, {"series": "Point 22", "p": 61, "q": 44}, {"series": "Point 22", "p": 66, "q": 3}, {"series": "Point 22", "p": 64, "q": 43}, {"series": "Point 22", "p": 69, "q": 5}, {"series": "Point 22", "p": 67, "q": 42}, {"series": "Point 22", "p": 72, "q": 6}, {"series": "Point 22", "p": 70, "q": 44}, {"series": "Point 22", "p": 75, "q": 8}, {"series": "Point 22", "p": 74, "q": 42}, {"series": "Point 22", "p": 78, "q": 10}, {"series": "Point 22", "p": 78, "q": 40}, {"series": "Point 22", "p": 81, "q": 12}, {"series": "Point 22", "p": 83, "q": 38}, {"series": "Point 22", "p": 86, "q": 10}, {"series": "Point 22", "p": 88, "q": 36}, {"series": "Point 22", "p": 90, "q": 14}, {"series": "Point 22", "p": 92, "q": 34}, {"series": "Point 22", "p": 95, "q": 12}, {"series": "Point 22", "p": 96, "q": 30}, {"series": "Point 22", "p": 99, "q": 14}, {"series": "Point 22", "p": 100, "q": 26}, {"series": "Point 22", "p": 103, "q": 10}, {"series": "Point 22", "p": 105, "q": 24}, {"series": "Point 22", "p": 108, "q": 12}, {"series": "Point 22", "p": 110, "q": 20}, {"series": "Point 22", "p": 112, "q": 8}, {"series": "Point 22", "p": 114, "q": 18}, {"series": "Point 22", "p": 117, "q": 8}, {"series": "Point 22", "p": 119, "q": 14}, {"series": "Point 22", "p": 122, "q": 5}, {"series": "Point 22", "p": 124, "q": 12}, {"series": "Point 22", "p": 127, "q": 4}, {"series": "Point 22", "p": 129, "q": 9}, {"series": "Point 22", "p": 131, "q": 3},
      {"series": "Point 23", "p": 684, "q": 231}, {"series": "Point 23", "p": 692, "q": 160}, {"series": "Point 23", "p": 712, "q": 107},
      {"series": "Point 23", "p": 713, "q": 107}, {"series": "Point 23", "p": 695, "q": 162}, {"series": "Point 23", "p": 686, "q": 231},
      {"series": "Point 23", "p": 688, "q": 230}, {"series": "Point 23", "p": 698, "q": 158}, {"series": "Point 23", "p": 715, "q": 107},
      {"series": "Point 23", "p": 716, "q": 106}, {"series": "Point 23", "p": 700, "q": 163}, {"series": "Point 23", "p": 690, "q": 230},
      {"series": "Point 23", "p": 692, "q": 230}, {"series": "Point 23", "p": 703, "q": 157}, {"series": "Point 23", "p": 718, "q": 106},
      {"series": "Point 23", "p": 719, "q": 105}, {"series": "Point 23", "p": 706, "q": 162}, {"series": "Point 23", "p": 693, "q": 229},
      {"series": "Point 23", "p": 695, "q": 229}, {"series": "Point 23", "p": 709, "q": 158}, {"series": "Point 23", "p": 721, "q": 105},
      {"series": "Point 23", "p": 722, "q": 104}, {"series": "Point 23", "p": 712, "q": 163}, {"series": "Point 23", "p": 697, "q": 229},
      {"series": "Point 23", "p": 699, "q": 228}, {"series": "Point 23", "p": 714, "q": 157}, {"series": "Point 23", "p": 724, "q": 104},
      {"series": "Point 23", "p": 725, "q": 103}, {"series": "Point 23", "p": 717, "q": 162}, {"series": "Point 23", "p": 701, "q": 228},
      {"series": "Point 23", "p": 703, "q": 227}, {"series": "Point 23", "p": 720, "q": 158}, {"series": "Point 23", "p": 727, "q": 103},
      {"series": "Point 23", "p": 728, "q": 103}, {"series": "Point 23", "p": 723, "q": 163}, {"series": "Point 23", "p": 705, "q": 227},
      {"series": "Point 23", "p": 707, "q": 227}, {"series": "Point 23", "p": 726, "q": 157}, {"series": "Point 23", "p": 730, "q": 103},
      {"series": "Point 23", "p": 731, "q": 104}, {"series": "Point 23", "p": 728, "q": 162}, {"series": "Point 23", "p": 709, "q": 226},
      {"series": "Point 23", "p": 711, "q": 226}, {"series": "Point 23", "p": 731, "q": 158}, {"series": "Point 23", "p": 733, "q": 105},
      {"series": "Point 23", "p": 734, "q": 106}, {"series": "Point 23", "p": 734, "q": 163}, {"series": "Point 23", "p": 712, "q": 226},
      {"series": "Point 23", "p": 714, "q": 225}, {"series": "Point 23", "p": 737, "q": 157}, {"series": "Point 23", "p": 736, "q": 107},
      {"series": "Point 23", "p": 737, "q": 108}, {"series": "Point 23", "p": 740, "q": 162}, {"series": "Point 23", "p": 716, "q": 225},
      {"series": "Point 23", "p": 718, "q": 225}, {"series": "Point 23", "p": 742, "q": 158}, {"series": "Point 23", "p": 739, "q": 110},
      {"series": "Point 23", "p": 740, "q": 111}, {"series": "Point 23", "p": 745, "q": 162}, {"series": "Point 23", "p": 720, "q": 224},
      {"series": "Point 23", "p": 722, "q": 224}, {"series": "Point 23", "p": 748, "q": 160}, {"series": "Point 23", "p": 742, "q": 113},
      {"series": "Point 23", "p": 750, "q": 150}, {"series": "Point 23", "p": 745, "q": 185}, {"series": "Point 23", "p": 722, "q": 222}, {"series": "Point 23", "p": 700, "q": 226}, {"series": "Point 23", "p": 688, "q": 190}, {"series": "Point 23", "p": 694, "q": 150}, {"series": "Point 23", "p": 712, "q": 106}, {"series": "Point 23", "p": 730, "q": 102}
    ],
    "path": [
      {"p": 677, "q": 274}, {"p": 638, "q": 297}, {"p": 590, "q": 314}, {"p": 538, "q": 326}, {"p": 503, "q": 333}, {"p": 460, "q": 337}, {"p": 428, "q": 338}, {"p": 400, "q": 336}, {"p": 360, "q": 331}, {"p": 322, "q": 320}, {"p": 305, "q": 312}, {"p": 280, "q": 300}, {"p": 260, "q": 287}, {"p": 235, "q": 268}, {"p": 207, "q": 244}, {"p": 176, "q": 210}, {"p": 145, "q": 173}, {"p": 124, "q": 147}, {"p": 102, "q": 124}
    ],
    "arrow": [{"p": 97.5, "q": 120.5}],
    "peak": [{"p": 428, "q": 338}]
  },
  "encoding": {
    "x": {
      "field": "p", "type": "quantitative",
      "scale": {"domain": [0, 800], "nice": false, "zero": false},
      "axis": {
        "values": [0, 200, 400, 600, 800],
        "title": "Mean Effective Stress, p'(kPa)",
        "titleFont": "DejaVu Serif", "titleFontSize": 20, "titleFontWeight": "normal", "titleColor": "#111111", "titlePadding": 17,
        "labelFont": "DejaVu Serif", "labelFontSize": 21, "labelColor": "#111111", "labelPadding": 20,
        "ticks": false, "domain": false,
        "grid": true, "gridColor": "#D9D9D9", "gridWidth": 1.3
      }
    },
    "y": {
      "field": "q", "type": "quantitative",
      "scale": {"domain": [0, 500], "nice": false, "zero": false},
      "axis": {
        "values": [0, 10, 20, 30, 40, 50, 60, 70, 80, 90, 100, 110, 120, 130, 140, 150, 160, 170, 180, 190, 200, 210, 220, 230, 240, 250, 260, 270, 280, 290, 300, 310, 320, 330, 340, 350, 360, 370, 380, 390, 400, 410, 420, 430, 440, 450, 460, 470, 480, 490, 500],
        "labelExpr": "datum.value % 50 === 0 ? datum.label : ''",
        "labelOverlap": false,
        "title": "Deviator Stress, q (kPa)",
        "titleFont": "DejaVu Serif", "titleFontSize": 20, "titleFontWeight": "normal", "titleColor": "#111111", "titlePadding": 10,
        "labelFont": "DejaVu Serif", "labelFontSize": 21, "labelColor": "#111111", "labelPadding": 22,
        "ticks": false, "domain": false,
        "grid": true,
        "gridColor": {"condition": {"test": "datum.value % 50 === 0", "value": "#D9D9D9"}, "value": "#EFEFEF"},
        "gridWidth": {"condition": {"test": "datum.value % 50 === 0", "value": 1.5}, "value": 1}
      }
    }
  },
  "layer": [
    {
      "data": {"name": "loading"},
      "mark": {"type": "line", "color": "#AEAAAA", "strokeWidth": 3.5, "strokeDash": [11, 8], "strokeCap": "butt", "interpolate": "monotone"},
      "encoding": {"detail": {"field": "c", "type": "nominal"}, "order": {"value": null}}
    },
    {
      "data": {"name": "points"},
      "mark": {"type": "line", "strokeWidth": 4, "strokeCap": "round", "strokeJoin": "round"},
      "encoding": {
        "color": {
          "field": "series", "type": "nominal",
          "scale": {
            "domain": ["Failure Envelope", "Point 1", "Point 2", "Point 3", "Point 4", "Point 5", "Point 6", "Point 7", "Point 8", "Point 9", "Point 10", "Point 11", "Point 12", "Point 13", "Point 14", "Point 15", "Point 16", "Point 17", "Point 18", "Point 19", "Point 20", "Point 21", "Point 22", "Point 23"],
            "range": ["#000000", "#70AD47", "#5B9BD5", "#FFC000", "#ED7D31", "#4472C4", "#7030A0", "#FF0000", "#B4C7E7", "#595959", "#7F6000", "#1F4E79", "#385723", "#86A3D9", "#F4B183", "#C9C9C9", "#FFD966", "#9DC3E6", "#A9D18E", "#2F5597", "#C55A11", "#7F7F7F", "#BF9000", "#2E75B6"]
          },
          "legend": {"orient": "none", "legendX": 832, "legendY": -1, "title": null}
        },
        "strokeDash": {
          "field": "series", "type": "nominal",
          "scale": {
            "domain": ["Failure Envelope", "Point 1", "Point 2", "Point 3", "Point 4", "Point 5", "Point 6", "Point 7", "Point 8", "Point 9", "Point 10", "Point 11", "Point 12", "Point 13", "Point 14", "Point 15", "Point 16", "Point 17", "Point 18", "Point 19", "Point 20", "Point 21", "Point 22", "Point 23"],
            "range": [[7, 5], [1, 0], [1, 0], [1, 0], [1, 0], [1, 0], [1, 0], [1, 0], [1, 0], [1, 0], [1, 0], [1, 0], [1, 0], [1, 0], [1, 0], [1, 0], [1, 0], [1, 0], [1, 0], [1, 0], [1, 0], [1, 0], [1, 0], [1, 0]]
          },
          "legend": {"orient": "none", "legendX": 832, "legendY": -1, "title": null}
        },
        "order": {"value": null}
      }
    },
    {
      "data": {"name": "envelope"},
      "mark": {"type": "line", "strokeWidth": 2},
      "encoding": {
        "color": {"field": "series", "type": "nominal"},
        "strokeDash": {"field": "series", "type": "nominal"},
        "order": {"value": null}
      }
    },
    {
      "data": {"name": "path"},
      "mark": {"type": "line", "color": "#FF0000", "strokeWidth": 5, "strokeDash": [13, 8], "interpolate": "monotone"},
      "encoding": {"order": {"value": null}}
    },
    {
      "data": {"name": "arrow"},
      "mark": {"type": "point", "shape": "triangle-down", "filled": true, "color": "#FF0000", "opacity": 1, "size": 280, "angle": 36}
    },
    {
      "data": {"name": "peak"},
      "mark": {"type": "point", "shape": "circle", "filled": true, "color": "#000000", "opacity": 1, "size": 950}
    }
  ]
}
